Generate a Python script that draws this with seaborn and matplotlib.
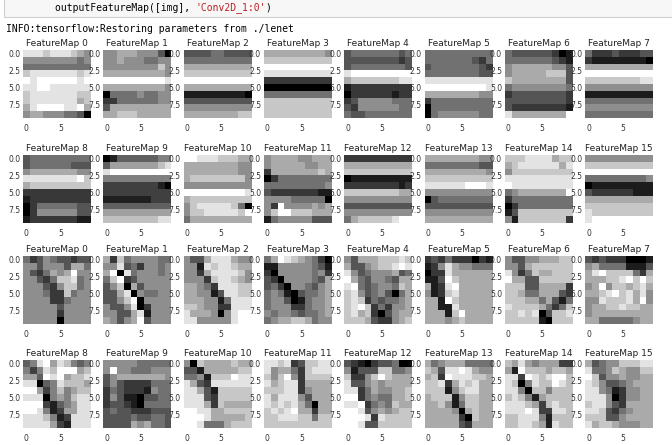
import numpy as np
import seaborn as sns
import matplotlib.pyplot as plt
from matplotlib.patches import Rectangle

# gray levels, 0 = black ... 9 = white, one string per image row
row1_maps = [
    ["8887888765", "5555555545", "4444444444", "7888888878", "9899999989",
     "8899888888", "7888888877", "7888888867", "6899998896", "5665554430"],
    ["5566655530", "5565554455", "5555555575", "6666666665", "9999999998",
     "6666666665", "0444454455", "2244444455", "3666666666", "6677766666"],
    ["3333443333", "4444444444", "6666666666", "7777777777", "9999999999",
     "6666666666", "1111111110", "3333333333", "5555555555", "6666666677"],
    ["6666666665", "7777777777", "9999999999", "8888888888", "2222222222",
     "0000000000", "4444444444", "7777777777", "7777777777", "7777777777"],
    ["3444444434", "3333333323", "3444444443", "8999999999", "6777777788",
     "1222222222", "0222222122", "2355555444", "3255555544", "4334444444"],
    ["4444444444", "4444444324", "3444444432", "4444444433", "8888888888",
     "9999999998", "6666666655", "2444444444", "0444444444", "0455555544"],
    ["4333333201", "4444444321", "5666666553", "5666667773", "7666666663",
     "4555555554", "2333333332", "3333333332", "3222222221", "8666666669"],
    ["4222322233", "2111111110", "6666666666", "9999999999", "7777777788",
     "5555555555", "1111111111", "4444444444", "5555555555", "4444444444"],
]
row2_maps = [
    ["3444444444", "3444444333", "5666666655", "8888888897", "6777777777",
     "2222222222", "1222222222", "0244444433", "0255555533", "1222222211"],
    ["0133333344", "3555555567", "7888888888", "4444444444", "2222222210",
     "2222222222", "1111111222", "3333333333", "5555555555", "6666666677"],
    ["9988877766", "6666666655", "6666666655", "6777777775", "5555555555",
     "9999999998", "6777777777", "5788888740", "5778888879", "4666666666"],
    ["5666655666", "5666665566", "2666666676", "0244444444", "4444444445",
     "3222222211", "5555444440", "5295555656", "5799777666", "1455555333"],
    ["2222222222", "6666666666", "7777777777", "0111111111", "2222222212",
     "7777777766", "5555555555", "3333333333", "5555555555", "4677777899"],
    ["6666666655", "4444444433", "6666666665", "7777777777", "8888889998",
     "5555555555", "0344444444", "3333333333", "5555555555", "6666666666"],
    ["7778888677", "6788888868", "5777777777", "8888888888", "9888888888",
     "4566666669", "2444444444", "0244444444", "1377777777", "5177777772"],
    ["5555555555", "7777777777", "9999999999", "4444444445", "0111111111",
     "3222222111", "6666666666", "7777777777", "8777777777", "8999999999"],
]
row3_maps = [
    ["4235433233", "5535553664", "5324656955", "5532477845", "5553257745",
     "5554227455", "5555224555", "5555535555", "5555525555", "5555505555"],
    ["6274555544", "5583425545", "6908455545", "4792355555", "3570635555",
     "3368054455", "3357905555", "5335802555", "5533681555", "6535693555"],
    ["5336888655", "5518788766", "5526888875", "5552788765", "6654288877",
     "6655138877", "6665514888", "7765522888", "8666505899", "8855555899"],
    ["4698765420", "1155555431", "2055555452", "3205555436", "3420554356",
     "4541034456", "4553014556", "4555224556", "5455434456", "4566776455"],
    ["5366677787", "6335677898", "8534555634", "9643554366", "8943455476",
     "7853453046", "7872434456", "7897242556", "7867203566", "7776322567"],
    ["2324222021", "1258655444", "0228666666", "1139766666", "6128966666",
     "5127866666", "6619766666", "6611866666", "6661796666", "6665676666"],
    ["5335566677", "5536777777", "8524766777", "9663377777", "7773366662",
     "7764466632", "7776646314", "8777764247", "7787803778", "7777710777"],
    ["3232220001", "5644441113", "6897777426", "6667789797", "5695776786",
     "6678978685", "5587778695", "5667787766", "5666666666", "6644444566"],
]
row4_maps = [
    ["3478576434", "4247688856", "5538785667", "7703476665", "8852464566",
     "7770454677", "8882134577", "8874125577", "7776412777", "7777521777"],
    ["5555544444", "5955444555", "3566666665", "3532222444", "2432221544",
     "2531103344", "2332104444", "3433222333", "3333433443", "3333656443"],
    ["5076666766", "3316666677", "4451777988", "8632888888", "8863177777",
     "8883277777", "8886276666", "9988667777", "9998666667", "9984446777"],
    ["8878237788", "8566427888", "7579527777", "8678826666", "7778825666",
     "8688853666", "8787864066", "7878966266", "7788877477", "7777777777"],
    ["3210233400", "5133377445", "7225797666", "8335656666", "8824655667",
     "9924544667", "8892454766", "9983565677", "9998287777", "9983377777"],
    ["6456664444", "7638898655", "6729888776", "7782687866", "7771578866",
     "6777157766", "6675147766", "6666506766", "6666620766", "6666632666"],
    ["6575455522", "5186665665", "7728767886", "7604766876", "7740664666",
     "6764156666", "7776526766", "7778722776", "6677741666", "6677651766"],
    ["6345577788", "8445765577", "9735565566", "8753345666", "8854125566",
     "8885025566", "7885326666", "8873245666", "7773356666", "8677655566"],
]
row_titles = [list(range(0, 8)), list(range(8, 16)), list(range(0, 8)), list(range(8, 16))]

code_black = "outputFeatureMap([img], "
code_red = "'Conv2D_1:0'"
code_end = ")"
info_line = "INFO:tensorflow:Restoring parameters from ./lenet"

ytick_labels = ["0.0", "2.5", "5.0", "7.5"]
xtick_labels = ["0", "5"]


def to_array(rows):
    return np.array([[int(ch) for ch in r] for r in rows], dtype=float)


sns.set_style("white")
W, H = 672, 445
fig = plt.figure(figsize=(W / 100, H / 100), dpi=100)

# notebook code cell
fig.patches.append(Rectangle((4 / W, 1 - 17 / H), 1, 20 / H, transform=fig.transFigure,
                             facecolor="#f7f7f7", edgecolor="#cfcfcf", lw=0.8))
fs = 7.0
cw = 0.602 * fs / 72 * 100 / W  # mono char width in figure fraction
x0 = 55 / W
y_code = 1 - 8 / H
fig.text(x0, y_code, code_black, family="DejaVu Sans Mono", fontsize=fs, va="center", color="#000000")
fig.text(x0 + cw * len(code_black), y_code, code_red, family="DejaVu Sans Mono", fontsize=fs,
         va="center", color="#BA2121")
fig.text(x0 + cw * (len(code_black) + len(code_red)), y_code, code_end, family="DejaVu Sans Mono",
         fontsize=fs, va="center", color="#000000")
fig.text(6 / W, 1 - 29 / H, info_line, family="DejaVu Sans Mono", fontsize=fs, va="center",
         color="#000000")

tops = [50, 155, 256, 360]
size = 68
for r, maps in enumerate([row1_maps, row2_maps, row3_maps, row4_maps]):
    for c, m in enumerate(maps):
        left = 23 + 80.3 * c
        ax = fig.add_axes([left / W, 1 - (tops[r] + size) / H, size / W, size / H])
        sns.heatmap(to_array(m), ax=ax, cmap="gray", cbar=False,
                    xticklabels=False, yticklabels=False)
        ax.set_yticks([0.5, 3.0, 5.5, 8.0])
        ax.set_yticklabels(ytick_labels, rotation=0)
        ax.set_xticks([0.5, 5.5])
        ax.set_xticklabels(xtick_labels, rotation=0)
        ax.tick_params(length=0, labelsize=5.5, colors="#333333", pad=2)
        ax.tick_params(axis="x", pad=4)
        ax.set_title(f"FeatureMap {row_titles[r][c]}", fontsize=6.5, color="#222222", pad=3)

fig.savefig("out.png", dpi=100)
